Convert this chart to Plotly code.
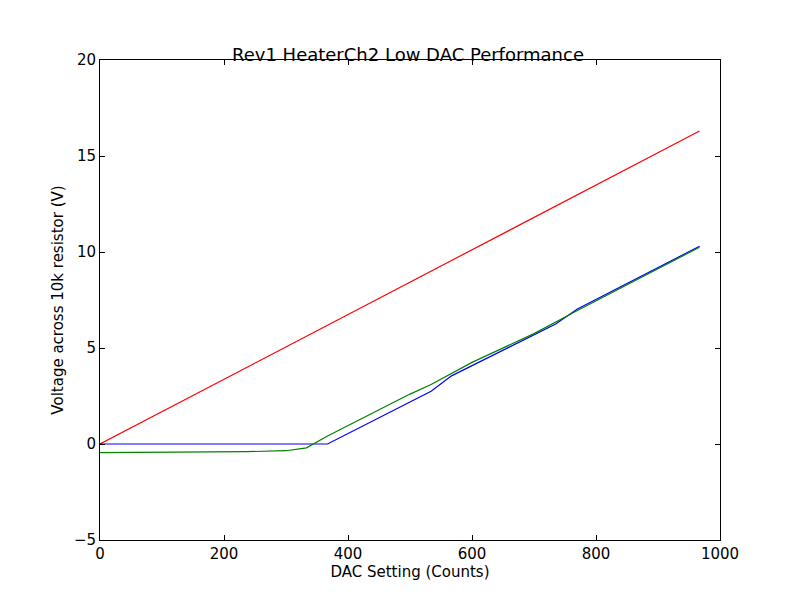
import plotly.graph_objects as go

red_x = [0, 967]
red_y = [0, 16.3]
blue_x = [0, 100, 200, 300, 367, 534, 567, 735, 770, 967]
blue_y = [0, 0, 0, 0, 0, 2.75, 3.55, 6.25, 7.03, 10.3]
green_x = [0, 100, 237, 300, 333, 367, 400, 500, 534, 600, 700, 735, 770, 967]
green_y = [-0.45, -0.44, -0.4, -0.35, -0.2, 0.42, 0.95, 2.6, 3.1, 4.25, 5.75, 6.35, 6.95, 10.25]

fig = go.Figure()
fig.add_trace(go.Scatter(x=red_x, y=red_y, mode="lines", line=dict(color="red", width=1.2)))
fig.add_trace(go.Scatter(x=blue_x, y=blue_y, mode="lines", line=dict(color="blue", width=1.2)))
fig.add_trace(go.Scatter(x=green_x, y=green_y, mode="lines", line=dict(color="green", width=1.2)))

ax = dict(showgrid=False, zeroline=False, showline=True, linecolor="black", linewidth=1,
          mirror="ticks", ticks="inside", ticklen=5, tickcolor="black",
          tickfont=dict(size=15, color="black"))
fig.update_layout(
    width=800, height=600, paper_bgcolor="white", plot_bgcolor="white",
    showlegend=False,
    font=dict(family="DejaVu Sans", color="black"),
    margin=dict(l=92, r=88, t=52, b=68),
    title=dict(text="Rev1 HeaterCh2 Low DAC Performance", x=0.5, xanchor="center",
               y=0.912, yanchor="bottom", font=dict(size=18)),
    xaxis=dict(ax, range=[0, 1000], dtick=200,
               title=dict(text="DAC Setting (Counts)", font=dict(size=15), standoff=2)),
    yaxis=dict(ax, range=[-5, 20], dtick=5,
               title=dict(text="Voltage across 10k resistor (V)", font=dict(size=15), standoff=6)),
)
fig.write_html("out.html")
